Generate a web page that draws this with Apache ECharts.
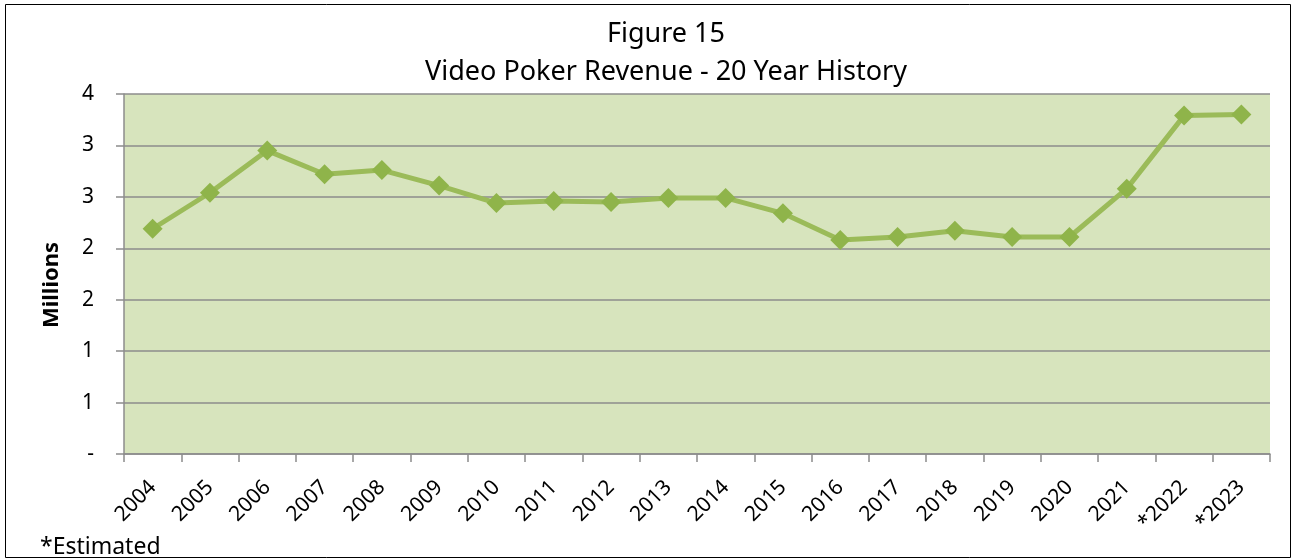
<!DOCTYPE html>
<html>
<head>
<meta charset="utf-8">
<script src="https://cdn.jsdelivr.net/npm/echarts@6/dist/echarts.min.js"></script>
<style>
  html, body { margin: 0; padding: 0; background: #fff; }
  #chart { width: 1296px; height: 560px; }
</style>
</head>
<body>
<div id="chart"></div>
<script>
// years along the x axis
var years = ['2004', '2005', '2006', '2007', '2008', '2009', '2010', '2011', '2012', '2013',
             '2014', '2015', '2016', '2017', '2018', '2019', '2020', '2021', '*2022', '*2023'];
// revenue in millions
var revenue = [2.19, 2.54, 2.95, 2.72, 2.76, 2.61, 2.44, 2.46, 2.45, 2.49,
               2.49, 2.34, 2.08, 2.11, 2.17, 2.11, 2.11, 2.58, 3.29, 3.30];
// y tick labels as the original shows them (0, 0.5, 1 ... 3.5 rounded)
var yTickLabels = ['-', '1', '1', '2', '2', '3', '3', '4'];

var font = 'Noto Sans';
var myChart = echarts.init(document.getElementById('chart'));

var option = {
  backgroundColor: '#fff',
  animation: false,
  title: {
    text: 'Figure 15\nVideo Poker Revenue - 20 Year History',
    left: 661,
    textAlign: 'center',
    top: 10,
    textStyle: { fontFamily: font, fontSize: 27, fontWeight: 'normal', color: '#000', lineHeight: 38 }
  },
  grid: { left: 124, right: 26, top: 94, bottom: 106, show: true, backgroundColor: '#d7e4bd', borderWidth: 0 },
  xAxis: {
    type: 'category',
    data: years,
    boundaryGap: true,
    axisLine: { lineStyle: { color: '#8c8c8c', width: 1.5 } },
    axisTick: { show: true, length: 8, lineStyle: { color: '#8c8c8c', width: 1.5 } },
    axisLabel: { rotate: 45, fontFamily: font, fontSize: 21, color: '#000', margin: 30 }
  },
  yAxis: {
    type: 'value',
    min: 0,
    max: 3.5,
    interval: 0.5,
    axisLine: { show: true, lineStyle: { color: '#8c8c8c', width: 1.5 } },
    axisTick: { show: true, length: 8, lineStyle: { color: '#8c8c8c', width: 1.5 } },
    axisLabel: {
      fontFamily: font, fontSize: 21, color: '#000', margin: 30,
      formatter: function (v) { return yTickLabels[Math.round(v / 0.5)]; }
    },
    splitLine: { lineStyle: { color: '#8c8c8c', width: 1.5 } }
  },
  series: [{
    type: 'line',
    data: revenue,
    symbol: 'diamond',
    symbolSize: 20,
    lineStyle: { color: '#9bbb59', width: 5 },
    itemStyle: { color: '#8fb44a' },
    z: 3
  }],
  graphic: [
    {
      type: 'rect',
      shape: { x: 5.5, y: 4.5, width: 1285, height: 553 },
      style: { fill: 'none', stroke: '#000', lineWidth: 1 },
      silent: true
    },
    {
      type: 'text',
      x: 52,
      y: 285,
      rotation: Math.PI / 2,
      style: {
        text: 'Millions', fontFamily: font, fontSize: 22, fontWeight: 'bold', fill: '#000',
        align: 'center', verticalAlign: 'middle'
      }
    },
    {
      type: 'text',
      left: 40,
      top: 536,
      style: { text: '*Estimated', fontFamily: font, fontSize: 23, fill: '#000' }
    }
  ]
};

myChart.setOption(option);
</script>
</body>
</html>
